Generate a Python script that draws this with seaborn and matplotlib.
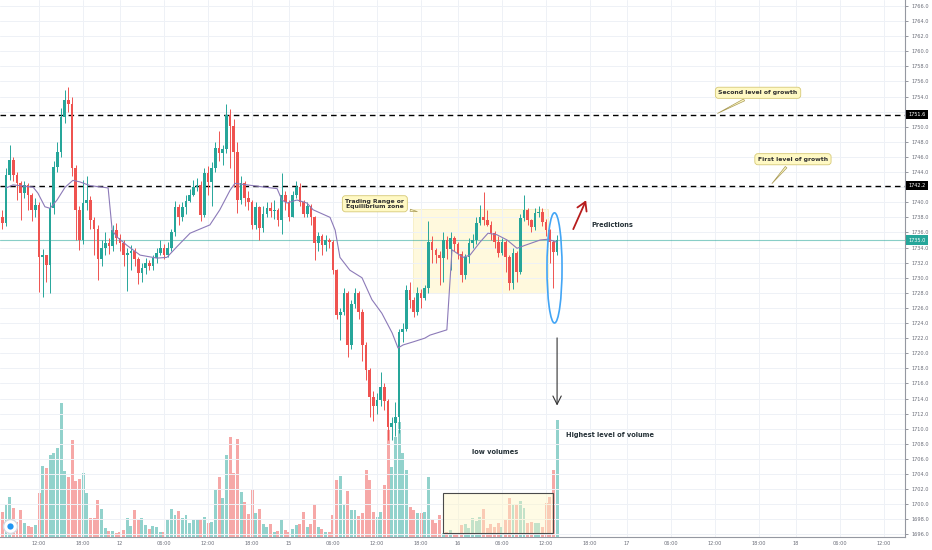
import numpy as np
import pandas as pd
import matplotlib
matplotlib.use("Agg")
import matplotlib.pyplot as plt
import seaborn as sns
from matplotlib.patches import Rectangle, Ellipse
from matplotlib.transforms import blended_transform_factory

# 30 min candles, gold futures
first_open = 1738.0
close = [1737.3, 1743.6, 1745.6, 1743.6, 1742.5, 1741.2, 1742.3, 1741.0, 1739.0, 1739.6,
         1732.7, 1733.0, 1731.7, 1739.2, 1744.7, 1746.7, 1751.3, 1753.5, 1753.0, 1744.5,
         1739.0, 1735.0, 1739.9, 1740.3, 1737.7, 1736.4, 1732.5, 1734.0, 1734.6, 1734.2,
         1736.3, 1735.2, 1734.6, 1733.0, 1733.3, 1733.6, 1732.5, 1730.6, 1731.3, 1732.0,
         1731.6, 1732.6, 1733.3, 1734.0, 1733.0, 1734.0, 1736.0, 1739.4, 1738.0, 1739.4,
         1740.2, 1741.0, 1742.0, 1742.3, 1738.3, 1743.9, 1742.7, 1744.6, 1747.2, 1746.5,
         1747.0, 1751.6, 1750.1, 1746.6, 1740.3, 1742.5, 1740.5, 1740.0, 1737.0, 1739.4,
         1736.6, 1738.5, 1739.3, 1738.8, 1739.0, 1737.7, 1741.0, 1740.0, 1738.0, 1741.0,
         1742.0, 1740.0, 1738.5, 1739.5, 1738.0, 1734.6, 1735.5, 1734.3, 1735.0, 1734.8,
         1731.0, 1725.1, 1725.5, 1728.0, 1721.1, 1726.5, 1728.0, 1725.5, 1721.1, 1717.8,
         1714.2, 1713.0, 1713.8, 1715.5, 1713.7, 1710.2, 1710.8, 1711.6, 1722.8, 1723.2,
         1728.4, 1727.1, 1725.5, 1728.0, 1727.3, 1728.6, 1734.8, 1733.7, 1733.0, 1732.6,
         1735.0, 1733.8, 1735.2, 1734.5, 1733.2, 1730.4, 1732.7, 1734.6, 1735.0, 1737.3,
         1738.0, 1737.7, 1737.0, 1735.9, 1734.7, 1733.3, 1734.7, 1732.7, 1729.3, 1733.3,
         1730.8, 1737.9, 1739.0, 1737.6, 1736.7, 1738.6, 1738.7, 1737.4, 1736.3, 1734.7,
         1733.4, 1735.0]
high = [1739.0, 1744.5, 1747.6, 1746.0, 1744.0, 1742.8, 1742.8, 1742.5, 1741.2, 1740.5,
        1740.0, 1733.8, 1733.0, 1740.0, 1745.5, 1748.0, 1752.5, 1754.9, 1755.3, 1754.0,
        1745.0, 1739.5, 1742.9, 1743.5, 1740.8, 1738.0, 1737.0, 1735.0, 1736.0, 1735.2,
        1737.0, 1737.2, 1735.8, 1735.0, 1734.0, 1734.3, 1734.0, 1732.8, 1732.0, 1732.6,
        1732.4, 1733.0, 1734.0, 1735.0, 1734.5, 1734.8, 1736.5, 1740.2, 1739.8, 1740.0,
        1741.0, 1741.8, 1743.0, 1743.2, 1742.8, 1744.5, 1744.8, 1745.3, 1748.0, 1749.5,
        1747.6, 1753.0, 1752.3, 1751.0, 1748.0, 1743.5, 1742.8, 1741.5, 1740.3, 1740.0,
        1739.5, 1739.5, 1740.0, 1740.0, 1740.3, 1739.2, 1743.9, 1741.5, 1740.3, 1741.5,
        1742.8, 1742.5, 1740.3, 1740.0, 1739.8, 1738.2, 1736.0, 1735.8, 1735.6, 1735.3,
        1735.0, 1731.2, 1726.0, 1728.6, 1728.2, 1727.0, 1728.6, 1728.3, 1725.8, 1721.5,
        1718.0, 1715.0, 1714.8, 1717.5, 1716.0, 1714.0, 1711.5, 1713.5, 1723.2, 1724.0,
        1729.0, 1729.5, 1727.5, 1728.8, 1728.5, 1729.0, 1737.5, 1735.5, 1734.0, 1733.5,
        1736.0, 1735.5, 1736.0, 1735.5, 1734.8, 1733.5, 1733.2, 1735.2, 1735.8, 1738.0,
        1739.6, 1741.4, 1739.0, 1737.5, 1736.2, 1735.5, 1735.3, 1735.0, 1733.0, 1734.0,
        1733.5, 1738.5, 1741.0, 1739.2, 1737.8, 1739.3, 1739.5, 1739.2, 1737.8, 1736.5,
        1735.0, 1735.6]
low = [1736.5, 1736.8, 1743.0, 1742.8, 1740.3, 1737.6, 1740.5, 1739.0, 1737.5, 1738.0,
       1728.1, 1727.5, 1729.4, 1728.0, 1738.5, 1744.0, 1746.0, 1750.5, 1752.0, 1743.5,
       1735.0, 1733.7, 1734.5, 1739.0, 1736.5, 1733.0, 1729.7, 1731.5, 1733.0, 1733.2,
       1733.5, 1734.5, 1733.5, 1731.5, 1728.3, 1731.0, 1731.5, 1729.2, 1729.5, 1730.5,
       1731.0, 1731.0, 1732.0, 1733.0, 1732.5, 1732.8, 1733.5, 1735.5, 1737.0, 1737.5,
       1738.5, 1740.0, 1740.8, 1741.5, 1737.5, 1738.0, 1741.0, 1739.5, 1744.0, 1745.5,
       1745.0, 1746.5, 1744.5, 1742.0, 1738.6, 1739.8, 1739.5, 1739.0, 1736.5, 1736.5,
       1735.0, 1736.0, 1738.0, 1738.0, 1737.8, 1736.8, 1735.8, 1739.0, 1737.5, 1738.0,
       1740.5, 1739.5, 1738.0, 1738.0, 1737.0, 1732.4, 1733.5, 1733.0, 1733.5, 1734.0,
       1730.5, 1724.5, 1721.8, 1725.0, 1719.5, 1720.5, 1726.0, 1724.5, 1719.0, 1716.5,
       1711.5, 1711.0, 1712.0, 1713.0, 1712.5, 1708.5, 1708.5, 1709.0, 1709.5, 1721.5,
       1723.0, 1726.0, 1724.8, 1725.0, 1726.0, 1727.0, 1728.0, 1732.0, 1732.0, 1729.0,
       1729.5, 1732.5, 1731.0, 1733.5, 1732.5, 1729.5, 1729.8, 1732.0, 1734.0, 1734.5,
       1737.0, 1737.0, 1736.8, 1735.0, 1734.0, 1732.8, 1733.0, 1730.7, 1728.4, 1728.5,
       1729.5, 1730.5, 1737.5, 1737.0, 1736.0, 1736.3, 1738.0, 1736.8, 1735.5, 1731.9,
       1728.7, 1733.0]
volume = [25, 32, 40, 29, 15, 27, 14, 11, 10, 12,
          44, 71, 69, 82, 84, 89, 134, 66, 60, 97,
          56, 58, 64, 44, 19, 19, 37, 28, 9, 6,
          6, 4, 5, 7, 19, 11, 27, 17, 19, 12,
          8, 11, 10, 5, 5, 18, 28, 22, 26, 19,
          22, 14, 17, 18, 18, 20, 14, 15, 47, 60,
          39, 82, 100, 64, 98, 45, 35, 23, 48, 24,
          28, 13, 10, 13, 5, 6, 17, 7, 5, 8,
          12, 13, 25, 10, 13, 33, 10, 8, 5, 5,
          22, 57, 61, 32, 46, 27, 27, 21, 24, 67,
          57, 25, 20, 25, 52, 107, 70, 100, 115, 84,
          67, 30, 27, 24, 24, 25, 60, 18, 14, 22,
          4, 5, 7, 3, 3, 12, 13, 9, 19, 16,
          20, 28, 9, 13, 10, 14, 10, 18, 39, 33,
          33, 36, 29, 14, 15, 14, 14, 10, 34, 40,
          67, 117]

# session vwap (bar number, price)
vwap_idx = [1.0, 2.9, 8.4, 9.7, 11.6, 13.0, 14.9, 17.1, 19.2, 21.1, 23.9, 28.8, 29.9, 31.2,
            33.9, 37.5, 42.1, 44.8, 47.5, 51.1, 56.5, 59.2, 62.0, 63.3, 66.6, 74.8, 76.1,
            77.5, 80.2, 82.9, 84.6, 89.2, 90.6, 91.9, 94.6, 97.9, 100.6, 103.3, 106.1,
            107.7, 109.1, 111.8, 115.0, 116.4, 121.0, 122.4, 125.4, 127.3, 130.0, 132.2,
            134.6, 137.4, 140.1, 142.3, 146.4, 148.5, 151.0]
vwap_val = [1741.9, 1742.3, 1742.0, 1741.2, 1739.4, 1739.2, 1740.3, 1742.0, 1742.9, 1742.7,
            1742.2, 1741.9, 1736.3, 1735.4, 1734.3, 1733.0, 1732.6, 1732.7, 1734.1, 1735.9,
            1737.0, 1739.0, 1741.6, 1742.5, 1742.3, 1741.8, 1740.3, 1739.9, 1740.3, 1739.9,
            1739.0, 1738.0, 1736.3, 1732.7, 1731.0, 1730.0, 1727.1, 1725.3, 1722.7, 1720.7,
            1721.1, 1721.5, 1722.0, 1722.4, 1723.1, 1733.7, 1732.7, 1733.0, 1734.7, 1735.9,
            1735.7, 1735.0, 1733.9, 1734.3, 1735.0, 1735.1, 1734.7]

tick_pos = [10, 22, 32, 44, 56, 68, 78, 90, 102, 114, 124, 136, 148, 160, 170, 182, 194,
            206, 216, 228, 240]
tick_labels = ["12:00", "18:00", "12", "06:00", "12:00", "18:00", "15", "06:00", "12:00",
               "18:00", "16", "06:00", "12:00", "18:00", "17", "06:00", "12:00", "18:00",
               "18", "06:00", "12:00"]
price_ticks = list(range(1696, 1767, 2))

growth_2 = 1751.6
growth_1 = 1742.2
last_price = 1735.0

UP = "#26a69a"
DOWN = "#ef5350"
GREY = "#6a6d78"

sns.set_theme(style="white")
plt.rcParams["font.family"] = ["DejaVu Sans"]

df = pd.DataFrame({"close": close, "high": high, "low": low, "volume": volume})
df["open"] = [first_open] + close[:-1]
df["idx"] = np.arange(len(df))
df["up"] = df["close"] >= df["open"]
df["color"] = np.where(df["up"], UP, DOWN)
df["body_lo"] = df[["open", "close"]].min(axis=1)
df["body_h"] = (df["close"] - df["open"]).abs().clip(lower=0.12)

fig = plt.figure(figsize=(9.32, 5.5), dpi=100)
ax = fig.add_axes([0, 13 / 550, 905 / 932, 537 / 550])
axv = ax.twinx()
ax.set_zorder(axv.get_zorder() + 1)
ax.patch.set_visible(False)

# volume underneath
axv.bar(df["idx"], df["volume"], width=0.8, color=df["color"], alpha=0.5, linewidth=0)
axv.set_ylim(0, df["volume"].max() * 4.0)
axv.set_yticks([])
for s in axv.spines.values():
    s.set_visible(False)

ax.set_xlim(-0.63, 245.7)
ax.set_ylim(1695.66, 1766.79)
# the level boxes sit on top of 1752 / 1742, so those labels are left empty
hidden = {round(growth_2 / 2) * 2, round(growth_1 / 2) * 2}
ax.set_yticks(price_ticks)
ax.set_yticklabels(["" if v in hidden else f"{v:.1f}" for v in price_ticks])
ax.set_xticks(tick_pos)
ax.set_xticklabels(tick_labels)
ax.yaxis.tick_right()
ax.grid(True, color="#eef1f6", linewidth=0.7)
ax.tick_params(axis="y", labelsize=3.6, colors=GREY, length=2.5, width=0.5, pad=2,
               right=True, left=False)
ax.tick_params(axis="x", labelsize=3.6, colors=GREY, length=0, pad=3)
for side in ["top", "left"]:
    ax.spines[side].set_visible(False)
for side in ["right", "bottom"]:
    ax.spines[side].set_color("#9598a1")
    ax.spines[side].set_linewidth(0.8)

# trading range zone
ax.add_patch(Rectangle((111.8, 1728.0), 36.7, 11.1, facecolor="#fff8d2", edgecolor="#f3e9b5",
                       linewidth=0.6, alpha=0.75, zorder=0.5))

# levels
ax.axhline(growth_2, color="black", linestyle=(0, (4, 3)), linewidth=1.0, zorder=1)
ax.axhline(growth_1, color="black", linestyle=(0, (4, 3)), linewidth=1.0, zorder=1)
ax.axhline(last_price, color=UP, alpha=0.55, linewidth=0.8, zorder=1)

# candles
ax.vlines(df["idx"], df["low"], df["high"], colors=df["color"], linewidth=0.7, zorder=2)
ax.bar(df["idx"], df["body_h"], bottom=df["body_lo"], width=0.72, color=df["color"],
       linewidth=0, zorder=3)

sns.lineplot(x=vwap_idx, y=vwap_val, ax=ax, color="#8c7ab8", linewidth=0.8, zorder=4)

# price labels on the scale
trans = blended_transform_factory(ax.transAxes, ax.transData)
for val, bg in [(growth_2, "black"), (growth_1, "black"), (last_price, UP)]:
    ax.text(1.004, val, f"{val:.1f}", transform=trans, ha="left", va="center", fontsize=3.6,
            color="white", clip_on=False, zorder=10,
            bbox=dict(boxstyle="square,pad=0.45", facecolor=bg, edgecolor="none"))

callout = dict(boxstyle="round,pad=0.5", facecolor="#fff9c4", edgecolor="#d6c977", linewidth=0.6)
pointer = dict(arrowstyle="wedge,tail_width=0.35", facecolor="#fff9c4", edgecolor="#a89a55",
               linewidth=0.5)
ax.annotate("Second level of growth", xy=(194, growth_2), xytext=(205.7, 1754.5),
            ha="center", va="center", fontsize=4.4, fontweight="bold", color="#2f2f2f",
            bbox=callout, arrowprops=pointer, zorder=6)
ax.annotate("First level of growth", xy=(209, growth_1), xytext=(215.2, 1745.7),
            ha="center", va="center", fontsize=4.4, fontweight="bold", color="#2f2f2f",
            bbox=callout, arrowprops=pointer, zorder=6)
ax.annotate("Trading Range or\nEquilibrium zone", xy=(113.7, 1738.7), xytext=(101.4, 1739.8),
            ha="center", va="center", fontsize=4.4, fontweight="bold", color="#2f2f2f",
            linespacing=1.0, bbox=callout, arrowprops=pointer, zorder=6)

# predictions
ax.annotate("", xy=(159.2, 1740.6), xytext=(155.1, 1736.1),
            arrowprops=dict(arrowstyle="->,head_length=0.5,head_width=0.3", color="#b71c1c",
                            linewidth=1.3), zorder=6)
ax.text(160.4, 1737.0, "Predictions", ha="left", va="center", fontsize=4.8,
        fontweight="bold", color="#263238", zorder=6)
ax.add_patch(Ellipse((150.3, 1731.3), width=4.1, height=14.6, fill=False,
                     edgecolor="#42a5f5", linewidth=1.2, zorder=6))
ax.annotate("", xy=(151.0, 1712.7), xytext=(151.0, 1722.4),
            arrowprops=dict(arrowstyle="->,head_length=0.5,head_width=0.25", color="#333333",
                            linewidth=0.8), zorder=6)
ax.text(153.4, 1709.2, "Highest level of volume", ha="left", va="center", fontsize=4.8,
        fontweight="bold", color="#263238", zorder=6)
ax.text(134.1, 1706.9, "low volumes", ha="center", va="center", fontsize=4.8,
        fontweight="bold", color="#263238", zorder=6)
ax.add_patch(Rectangle((120.0, 1696.2), 30.0, 5.3, facecolor=(1.0, 0.97, 0.78, 0.45),
                       edgecolor="#4a4a4a", linewidth=0.8, zorder=5))

# logo badge
ax.plot([10 / 905], [11 / 537], marker="o", markersize=10, markerfacecolor="white",
        markeredgecolor="#d5dbe3", transform=ax.transAxes, clip_on=False, zorder=7)
ax.plot([10 / 905], [11 / 537], marker="o", markersize=4.5, markerfacecolor="#2196f3",
        markeredgecolor="none", transform=ax.transAxes, clip_on=False, zorder=8)

ax.set_xlabel("")
ax.set_ylabel("")
fig.savefig("out.png", dpi=100)
